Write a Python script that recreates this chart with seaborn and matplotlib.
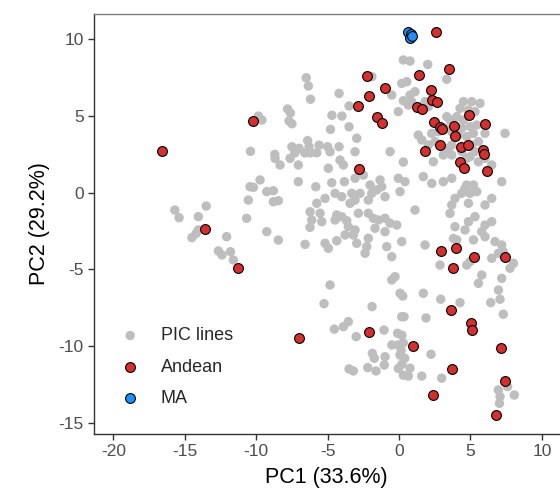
import numpy as np
import pandas as pd
import matplotlib
matplotlib.use("Agg")
import matplotlib.pyplot as plt
import seaborn as sns

# PCA scores: PIC lines (left and central part of the cloud)
pic_pc1 = [
    -9.85, -9.6, -10.4, -6.5, -6.35, -6.2, -7.8, -7.6, -7.7, -7.5, -4.2, -4.7, -4.0, -3.5, -2.96, -4.8,
    -4.2, -6.4, -7.5, -7.0, -6.3, -5.6, -5.0, -8.7, -3.5, -1.9,
    0.26, 2.92, 4.27, 6.42, 7.07, 7.3, 0.35, 1.89, 2.24, 0.2, 0.3, 0.15, 0.4, 0.2, 0.77, 0.65,
    1.59, 2.99, 6.95, 7.07, 7.03, 7.6, 8.07,
    -5.25, -1.89, -4.53, -3.9, -3.55, -3.0, -1.05, -1.87, -1.73, -0.98, -1.03, -3.5, -3.2, -2.19, -1.61,
    -0.1, 0.19, -0.5, -0.05, 0.07, -0.05, 0.3,
    -15.7, -15.4, -14.05, -13.5, -14.5, -14.2, -14.05, -12.07, -12.65, -12.4, -11.8, -11.6, -10.55,
    -10.67, -10.43,
    -8.68, -8.33, -7.63, -7.05, -7.3, -6.6, -6.2, -5.76, -4.95, -4.13, -3.9, -4.83, -3.08, -9.73,
    -10.2, -9.26, -8.8, -8.8, -8.45, -7.05, -5.83, -4.71, -3.83, -3.08, -2.5, -2.03, -1.56, -1.33, -1.21,
    -5.18, -4.48, -4.01, -3.31, -3.43, -3.08, -2.73, -2.15, -1.91, -0.98, -5.76, -6.23, -5.53,
    -6.11, -5.41, -6.23, -4.48, -4.01, -4.36, -3.66, -3.55, -3.78, -2.85, -2.15, -1.8, -1.45, -0.98,
    -3.08, -3.2, -2.96, -2.15, -2.26, -2.38, -1.68, -0.98, -9.26, -8.45, -6.58, -5.18, -4.95, -4.36,
    -0.86, -4.83,
    # right-hand cluster
    0.30, 0.77, 2.01, 3.34, 0.19, 0.54, -0.51, 0.77, 1.12, 0.89, 0.65, -0.05, 0.3, 1.82, 2.05,
    4.51, 5.09, 5.67, 4.27, 4.86, 5.32, 3.34, 3.57, 4.04, 4.51, 4.39, 4.97, 5.44, 3.69, 4.16, 4.74,
    5.21, 3.22, 2.75, 2.29, 1.35, 1.59, 2.05, 2.52, 3.69, 3.46, 5.09, 5.56, 5.32, 4.97, 2.40, 3.1,
    3.69, 4.39, 4.74, 5.56, 6.02, 6.49, 7.42, 6.02,
    -0.63, -0.05, 0.42, 0.07, 1.70, 2.29, 3.1, 3.69, 4.74, 5.21, 5.44, 4.39, 4.97, 4.62, 3.92, 3.69,
    4.86, 6.02, 6.49, 7.19, 1.12, 3.57, 4.86, 5.32, 6.02, 6.49, 5.79, 6.02, 3.92, 3.81, 4.62, 6.72,
    5.21, -0.63, -0.16, 0.19, -0.51, 1.82, 4.04, 7.19, 7.3, 6.49, 6.96, 8.01, 7.77, 7.19, 6.96, 5.79,
    5.56, 4.74, 4.97, 2.87, -0.28, 1.7, 0.07, -0.51, 0.3,
]
pic_pc2 = [
    5.0, 4.74, 2.7, 7.5, 6.96, 6.1, 5.46, 5.2, 4.68, 4.5, 6.48, 5.05, 5.0, 4.3, 3.55, 4.13,
    3.0, 3.4, 3.0, 2.9, 3.0, 3.1, 3.0, 2.5, 5.66, 7.57,
    -6.74, -6.95, -7.17, -7.17, -6.95, -7.93, -8.09, -8.17, -10.54, -9.3, -9.8, -10.3, -10.8, -11.2,
    -11.45, -11.96, -11.96, -12.1, -12.87, -13.3, -13.74, -12.65, -13.2,
    -7.24, -7.43, -8.9, -8.74, -8.41, -9.39, -8.96, -10.48, -10.8, -10.7, -11.24, -11.5, -11.63, -11.41,
    -11.63, -9.17, -8.09, -9.93, -9.93, -10.59, -11.46, -11.9,
    -1.13, -1.63, -1.56, -0.87, -2.93, -2.65, -2.43, -2.87, -3.8, -4.06, -3.85, -4.39, -0.48,
    -1.67, 0.39,
    2.24, 1.81, 2.24, 1.81, 2.6, 2.6, 2.6, 2.6, 1.59, 2.13, 1.81, 2.67, 2.67, 0.83,
    0.35, 0.07, 0.13, -0.59, -0.52, 0.72, 0.39, 0.65, 0.72, 0.94, 1.15, 0.5, 0.18, 0.83, 0.39,
    -0.37, -0.04, -0.26, -0.04, -0.69, -0.48, -0.04, -0.48, -0.04, -0.26, -0.69, -1.24, -1.34,
    -1.78, -1.89, -2.26, -1.78, -1.57, -1.45, -1.83, -2.22, -2.76, -1.34, -1.34, -1.67, -1.78, -1.67,
    -2.43, -2.76, -3.3, -2.97, -3.52, -3.95, -2.32, -2.54, -2.54, -3.09, -3.37, -3.3, -3.63, -3.13,
    -3.52, -6.02,
    # right-hand cluster
    8.66, 8.59, 8.37, 7.4, 7.13, 7.24, 6.37, 6.37, 6.59, 5.94, 5.72, 5.29, 6.0, 5.94, 5.61,
    5.94, 5.94, 5.83, 5.50, 5.39, 5.29, 4.96, 4.74, 4.96, 4.74, 4.20, 4.31, 4.42, 3.98, 3.76, 3.66,
    3.87, 4.20, 3.98, 3.87, 3.76, 3.44, 3.11, 3.33, 3.11, 2.89, 3.11, 3.33, 2.68, 2.35, 2.02, 2.46,
    2.46, 2.68, 2.24, 2.02, 2.24, 1.81, 3.87, 3.87,
    2.68, 0.94, 0.72, 0.07, 1.05, 0.61, 0.72, 0.94, 0.50, 0.50, 0.07, -0.04, -0.04, 0.29, -0.37, -0.80,
    -0.69, -0.80, -0.37, 0.72, -1.13, -1.35, -1.89, -1.56, -2.11, -1.89, -2.54, -2.87, -2.22, -2.98,
    -2.43, -3.19, -3.08, -1.99, -2.11, -3.19, -4.17, -3.41, -3.08, -3.41, -3.85, -4.28, -3.95, -4.61,
    -4.93, -5.59, -6.35, -5.37, -5.91, -4.72, -4.5, -4.72, -5.48, -6.56, -6.56, -5.69, 2.0,
]

# PCA scores: Andean accessions
andean_pc1 = [
    -16.6, -10.2, -13.6, -11.25, -7.0, -2.08, -2.26, -0.96, -2.1, -2.85, -1.52, -1.21, -2.78,
    2.59, 3.53, 1.42, 2.24, 2.33, 2.64, 1.28, 1.63, 4.9, 6.02, 2.45, 2.87, 3.0, 3.85, 3.94, 2.87,
    4.34, 4.83, 1.84, 5.9, 5.95, 4.27, 4.57, 6.18, 2.92, 3.97, 5.23, 7.45, 3.76, 3.62, 5.02, 5.11,
    0.96, 7.16, 3.74, 7.45, 2.38, 6.77,
]
andean_pc2 = [
    2.74, 4.68, -2.39, -4.93, -9.48, -9.1, 7.63, 6.83, 6.3, 5.66, 4.94, 4.55, 1.53,
    10.46, 8.07, 7.66, 6.7, 6.05, 5.94, 5.61, 5.44, 5.05, 4.5, 4.61, 4.3, 4.17, 4.37, 3.68, 3.11,
    3.0, 3.11, 2.74, 2.79, 2.52, 1.98, 1.63, 1.44, -3.78, -3.6, -4.17, -4.2, -4.91, -7.63, -8.5, -8.96,
    -10.0, -10.13, -11.48, -12.28, -13.2, -14.52,
]

# PCA scores: MA accessions
ma_pc1 = [0.65, 0.85, 0.75, 0.9]
ma_pc2 = [10.5, 10.35, 10.1, 10.2]

colors = {"PIC lines": "#BEBEBE", "Andean": "#D3302F", "MA": "#1E90FF"}

df = pd.concat([
    pd.DataFrame({"PC1": pic_pc1, "PC2": pic_pc2, "group": "PIC lines"}),
    pd.DataFrame({"PC1": andean_pc1, "PC2": andean_pc2, "group": "Andean"}),
    pd.DataFrame({"PC1": ma_pc1, "PC2": ma_pc2, "group": "MA"}),
], ignore_index=True)

sns.set_style("white")
plt.rcParams["font.family"] = ["Liberation Sans", "DejaVu Sans"]
plt.rcParams["axes.unicode_minus"] = False

fig = plt.figure(figsize=(5.6, 4.99), dpi=100)
ax = fig.add_axes([0.167, 0.1303, 0.833, 0.8417])

sns.scatterplot(data=df[df.group == "PIC lines"], x="PC1", y="PC2", color=colors["PIC lines"],
                s=46, edgecolor="none", linewidth=0, label="PIC lines", ax=ax, zorder=2)
sns.scatterplot(data=df[df.group == "Andean"], x="PC1", y="PC2", color=colors["Andean"],
                s=50, edgecolor="black", linewidth=0.8, label="Andean", ax=ax, zorder=3)
sns.scatterplot(data=df[df.group == "MA"], x="PC1", y="PC2", color=colors["MA"],
                s=50, edgecolor="black", linewidth=0.8, label="MA", ax=ax, zorder=4)

ax.set_xlim(-21.39, 11.27)
ax.set_ylim(-15.74, 11.66)
ax.set_xticks([-20, -15, -10, -5, 0, 5, 10])
ax.set_yticks([-15, -10, -5, 0, 5, 10])
ax.set_xlabel("PC1 (33.6%)", fontsize=15.5, color="black", labelpad=6)
ax.set_ylabel("PC2 (29.2%)", fontsize=15.5, color="black", labelpad=6)
ax.tick_params(axis="both", labelsize=12.5, labelcolor="#4D4D4D", color="#333333",
               length=4, width=1, direction="out", bottom=True, left=True, pad=3)

for side in ["left", "bottom", "top"]:
    ax.spines[side].set_color("#333333")
    ax.spines[side].set_linewidth(1)
ax.spines["top"].set_color("#7F7F7F")
ax.spines["right"].set_visible(False)

ax.legend(loc="center left", bbox_to_anchor=(0.005, 0.159), frameon=False, fontsize=13,
          handletextpad=0.7, labelspacing=0.8, markerscale=1.0)

fig.savefig("out.png", dpi=100)
